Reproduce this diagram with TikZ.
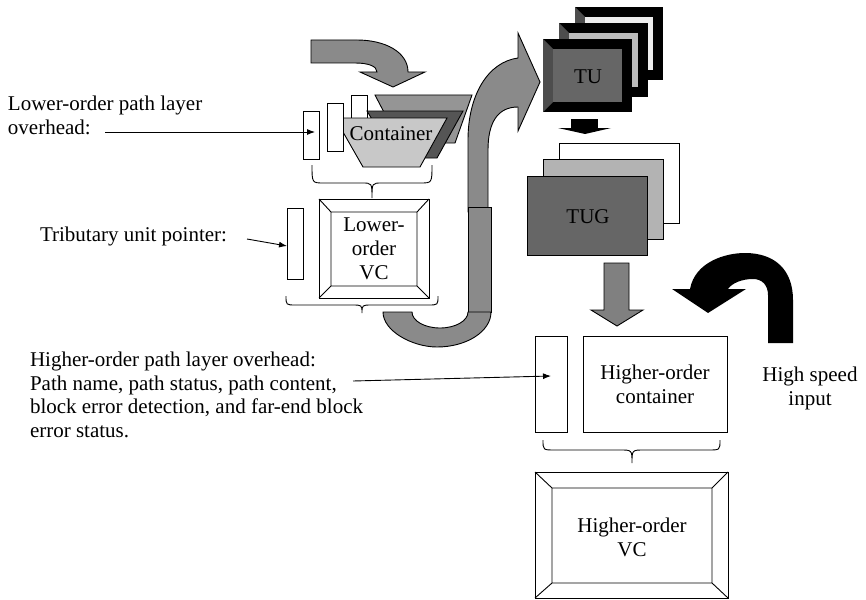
\documentclass[tikz,border=0pt]{standalone}
\usepackage{fontspec}
\setmainfont{Liberation Serif}
\usetikzlibrary{arrows.meta}
\definecolor{arrowgray}{HTML}{8A8A8A}
\definecolor{downgray}{HTML}{808080}
\definecolor{trapback}{HTML}{959595}
\definecolor{trapmid}{HTML}{555555}
\definecolor{trapfront}{HTML}{C8C8C8}
\definecolor{bevelgray}{HTML}{4D4D4D}
\definecolor{facelight}{HTML}{EDEDED}
\definecolor{facemid}{HTML}{BBBBBB}
\definecolor{facedark}{HTML}{666666}
\definecolor{tugmid}{HTML}{B3B3B3}
\begin{document}
\begin{tikzpicture}[x=1pt,y=-1pt,
  every node/.style={inner sep=0pt, outer sep=0pt},
  lbl/.style={font=\fontsize{21}{24}\selectfont},
  outline/.style={draw=black, line width=0.9pt, line join=miter},
  whitebox/.style={outline, fill=white},
  pointer/.style={draw=black, line width=0.9pt, -{Latex[length=8pt,width=6pt]}},
  bevel/.style={draw=black, line width=0.9pt},
]
\useasboundingbox (0,0) rectangle (866,599);

% ---- bent arrow feeding the container ----
\filldraw[outline, fill=arrowgray]
  (311,40) -- (357,40) .. controls (385,40) and (408,52) .. (408,72)
  -- (425,72) -- (393,87) -- (360,72) -- (377,72)
  .. controls (377,66) and (368,63) .. (355,63) -- (311,63) -- cycle;

% ---- overhead strips and container trapezoids ----
\node[whitebox, minimum width=16pt, minimum height=48pt] (oh3) at (359,119) {};
\filldraw[outline, fill=trapback] (375,95) -- (472,95) -- (455,143) -- (400,143) -- cycle;
\filldraw[outline, fill=trapmid] (367,111) -- (463,111) -- (437,158) -- (395,158) -- cycle;
\filldraw[outline, fill=trapfront] (335,118) -- (447,118) -- (420,167) -- (363,167) -- cycle;
\node[lbl] (container) at (391,134) {Container};
\node[whitebox, minimum width=16pt, minimum height=48pt] (oh2) at (335,127) {};
\node[whitebox, minimum width=16pt, minimum height=48pt] (oh1) at (311,135) {};

% ---- large gray U-turn arrow ----
\filldraw[outline, fill=arrowgray]
  (468,212) -- (468,140) .. controls (468,95) and (488,62) .. (518,58)
  -- (518,33) -- (540,82) -- (518,131) -- (518,107)
  .. controls (498,107) and (488,122) .. (488,150) -- (488,212) -- cycle;
\filldraw[outline, fill=arrowgray] (468,207) rectangle (491,312);
\filldraw[outline, fill=arrowgray]
  (383,312) .. controls (383,331.3) and (412.8,347) .. (437,347)
  .. controls (466.8,347) and (491,331.3) .. (491,312) -- (468,312)
  .. controls (468,320.8) and (455.5,328) .. (440,328)
  .. controls (424.5,328) and (412,320.8) .. (412,312) -- cycle;

% ---- lower-order VC ----
\draw[line width=0.9pt] (312,165) .. controls (312,183) .. (324,183) -- (362,183)
  .. controls (372,183) .. (372,198) .. controls (372,183) .. (382,183) -- (420,183)
  .. controls (432,183) .. (432,165);
\filldraw[bevel, fill=white] (319,199) rectangle (429,298);
\draw[bevel] (331,212) rectangle (417,286)
  (319,199) -- (331,212) (429,199) -- (417,212) (319,298) -- (331,286) (429,298) -- (417,286);
\node[lbl, align=center] (lovc) at (374,249) {Lower-\\order\\VC};
\node[whitebox, minimum width=16pt, minimum height=71pt] (tup) at (295,243.5) {};
\draw[line width=0.9pt] (286,296) .. controls (286,305) .. (296,305) -- (352,305)
  .. controls (362,305) .. (362,313) .. controls (362,305) .. (372,305) -- (428,305)
  .. controls (438,305) .. (438,296);

% ---- tributary units ----
\fill[black] (575,7) rectangle (663,80);
\fill[bevelgray] (575,7) -- (585,17) -- (585,70) -- (575,80) -- cycle;
\fill[facelight] (585,17) rectangle (653,70);
\fill[black] (559,23) rectangle (648,97);
\fill[bevelgray] (559,23) -- (569,33) -- (569,87) -- (559,97) -- cycle;
\fill[facemid] (569,33) rectangle (638,87);
\fill[black] (543,39) rectangle (632,112);
\fill[bevelgray] (543,39) -- (553,49) -- (553,102) -- (543,112) -- cycle;
\fill[facedark] (553,49) rectangle (622,102);
\node[lbl] (tu) at (588,77) {TU};

\fill[black] (571,119) rectangle (598,128.5);
\fill[black] (558,128) -- (611,128) -- (585,134) -- cycle;

% ---- tributary unit group ----
\filldraw[outline, fill=white] (559,143) rectangle (679,223);
\filldraw[outline, fill=tugmid] (543,159) rectangle (663,239);
\filldraw[outline, fill=facedark] (527,176) rectangle (647,255);
\node[lbl] (tug) at (588,217) {TUG};

\filldraw[outline, fill=downgray]
  (604,263) -- (629,263) -- (629,310) -- (643,310) -- (617,326) -- (591,310) -- (604,310) -- cycle;

% ---- higher-order container and VC ----
\node[whitebox, minimum width=32pt, minimum height=96pt] (hooh) at (551,384) {};
\node[whitebox, minimum width=144pt, minimum height=96pt] (hoc) at (655,384) {};
\node[lbl, align=center] at (hoc) (hoctext) {Higher-order\\container};
\draw[line width=0.9pt] (543,440) .. controls (543,450) .. (555,450) -- (620,450)
  .. controls (632,450) .. (632,463) .. controls (632,450) .. (644,450) -- (708,450)
  .. controls (720,450) .. (720,440);
\filldraw[bevel, fill=white] (535,472) rectangle (728,598);
\draw[bevel] (552,488) rectangle (712,583)
  (535,472) -- (552,488) (728,472) -- (712,488) (535,598) -- (552,583) (728,598) -- (712,583);
\node[lbl, align=center] (hovc) at (632,537) {Higher-order\\VC};

% ---- high speed input arrow ----
\fill[black]
  (690,289) .. controls (695,262) and (725,253) .. (745,253)
  .. controls (775,253) and (793,270) .. (793,300) -- (793,343) -- (768,343)
  -- (768,295) .. controls (768,285) and (762,279) .. (753,279)
  .. controls (742,279) and (732,283) .. (728,289)
  -- (746,289) -- (708,313) -- (672,289) -- cycle;
\node[lbl, align=center] (hsi) at (810,388) {High speed\\input};

% ---- labels and pointers ----
\node[lbl, anchor=north west, align=left] (lopoh) at (8,96) {Lower-order path layer\\overhead:};
\coordinate (lopohFrom) at (105,132);
\coordinate (lopohTo) at (315,132);
\draw[pointer] (lopohFrom) -- (lopohTo);

\node[lbl, anchor=west] (tupLabel) at (40,236) {Tributary unit pointer:};
\coordinate (tupFrom) at (247,239);
\coordinate (tupTo) at (287,246);
\draw[pointer] (tupFrom) -- (tupTo);

\node[lbl, anchor=north west, align=left, font=\fontsize{21}{23.5}\selectfont] (hopoh) at (30,352)
  {Higher-order path layer overhead:\\Path name, path status, path content,\\block error detection, and far-end block\\error status.};
\coordinate (hopohFrom) at (353,381);
\coordinate (hopohTo) at (551,376);
\draw[pointer] (hopohFrom) -- (hopohTo);
\end{tikzpicture}
\end{document}
